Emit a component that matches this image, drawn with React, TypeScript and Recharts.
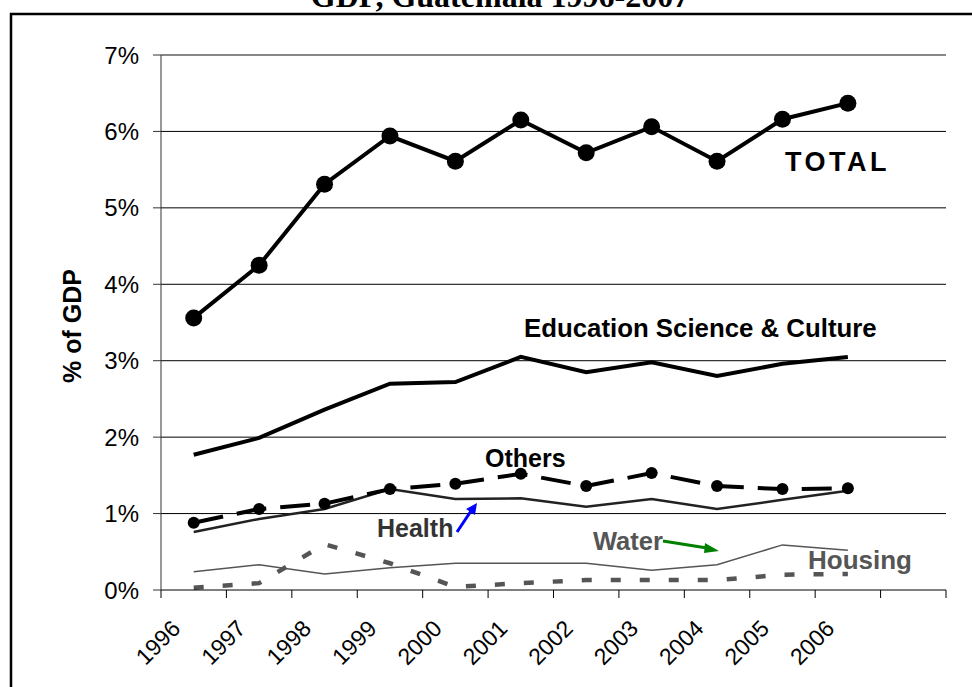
import React from 'react';
import { LineChart, Line, XAxis, YAxis, CartesianGrid, Customized } from 'recharts';

const years = ['1996', '1997', '1998', '1999', '2000', '2001', '2002', '2003', '2004', '2005', '2006', '2007'];
const tickLabels = ['1996', '1997', '1998', '1999', '2000', '2001', '2002', '2003', '2004', '2005', '2006', ''];
const yTicks = [0, 1, 2, 3, 4, 5, 6, 7];
const innerGrid = [1, 2, 3, 4, 5, 6];
const topGrid = [7];

const total = [3.56, 4.25, 5.31, 5.94, 5.61, 6.15, 5.72, 6.06, 5.61, 6.16, 6.37, null];
const education = [1.77, 1.99, 2.36, 2.70, 2.72, 3.05, 2.85, 2.98, 2.80, 2.96, 3.05, null];
const others = [0.88, 1.06, 1.13, 1.32, 1.39, 1.52, 1.36, 1.53, 1.36, 1.32, 1.33, null];
const health = [0.76, 0.93, 1.06, 1.32, 1.19, 1.20, 1.09, 1.19, 1.06, 1.18, 1.30, null];
const water = [0.24, 0.33, 0.21, 0.29, 0.35, 0.35, 0.35, 0.26, 0.33, 0.59, 0.52, null];
const housing = [0.03, 0.09, 0.60, 0.35, 0.04, 0.09, 0.13, 0.13, 0.13, 0.20, 0.21, null];

const data = years.map((y, i) => ({
  year: y,
  total: total[i],
  education: education[i],
  others: others[i],
  health: health[i],
  water: water[i],
  housing: housing[i],
}));

const SANS = '"Liberation Sans", Arial, sans-serif';
const SERIF = '"Liberation Serif", "Times New Roman", serif';

const PLOT_LEFT = 161;
const PLOT_RIGHT = 946;
const BAND = (PLOT_RIGHT - PLOT_LEFT) / years.length;

const XTick = (props: any) => {
  const { x, y, index } = props;
  const label = tickLabels[index] ?? '';
  const tx = x - 12;
  const ty = y + 32;
  return (
    <g>
      <line x1={x - BAND / 2} y1={y - 8} x2={x - BAND / 2} y2={y} stroke="#000" strokeWidth={1} />
      {index === years.length - 1 && (
        <line x1={x + BAND / 2} y1={y - 8} x2={x + BAND / 2} y2={y} stroke="#000" strokeWidth={1} />
      )}
      {label && (
        <text
          x={tx}
          y={ty}
          transform={`rotate(-45, ${tx}, ${ty})`}
          textAnchor="end"
          fontFamily={SANS}
          fontSize={23}
          fill="#000"
        >
          {label}
        </text>
      )}
    </g>
  );
};

const Annotations = () => (
  <g>
    <path d="M 11 1000 L 11 14 L 1000 14" fill="none" stroke="#000" strokeWidth={2.5} />
    <text x={500} y={7} textAnchor="middle" fontFamily={SERIF} fontWeight="bold" fontSize={32} fill="#000">
      GDP, Guatemala 1996-2007
    </text>
    <text
      x={72}
      y={326}
      transform="rotate(-90, 72, 326)"
      textAnchor="middle"
      dominantBaseline="central"
      fontFamily={SANS}
      fontWeight="bold"
      fontSize={25}
      fill="#000"
    >
      % of GDP
    </text>
    <text x={785} y={171} fontFamily={SANS} fontWeight="bold" fontSize={27} letterSpacing={3.5} fill="#000">
      TOTAL
    </text>
    <text x={524} y={337} fontFamily={SANS} fontWeight="bold" fontSize={25.8} fill="#000">
      Education Science &amp; Culture
    </text>
    <text x={485} y={467} fontFamily={SANS} fontWeight="bold" fontSize={25} fill="#000">
      Others
    </text>
    <text x={377} y={537} fontFamily={SANS} fontWeight="bold" fontSize={25} fill="#333">
      Health
    </text>
    <line x1={457} y1={532} x2={471} y2={511} stroke="#0000ff" strokeWidth={3} />
    <polygon points="477,503 466,509 475,515" fill="#0000ff" />
    <text x={593} y={550} fontFamily={SANS} fontWeight="bold" fontSize={25.5} fill="#555">
      Water
    </text>
    <line x1={663} y1={541} x2={707} y2={548} stroke="#008000" strokeWidth={3} />
    <polygon points="719,551 705,543 704,553" fill="#008000" />
    <text x={808} y={569} fontFamily={SANS} fontWeight="bold" fontSize={26} fill="#555">
      Housing
    </text>
  </g>
);

export default function App() {
  return (
    <div style={{ position: 'absolute', left: 0, top: 0, width: 972, height: 687, background: '#fff' }}>
      <LineChart
        width={972}
        height={687}
        data={data}
        margin={{ top: 55, right: 972 - PLOT_RIGHT, bottom: 0, left: 0 }}
      >
        <CartesianGrid yAxisId="left" vertical={false} horizontalValues={innerGrid} stroke="#000" strokeWidth={1} />
        <CartesianGrid yAxisId="left" vertical={false} horizontalValues={topGrid} stroke="#888" strokeWidth={2} />
        <XAxis
          dataKey="year"
          height={97}
          padding={{ left: BAND / 2, right: BAND / 2 }}
          axisLine={{ stroke: '#000', strokeWidth: 1 }}
          tickLine={false}
          tickSize={8}
          tickMargin={0}
          interval={0}
          tick={<XTick />}
        />
        <YAxis
          yAxisId="left"
          width={PLOT_LEFT}
          domain={[0, 7]}
          ticks={yTicks}
          tickFormatter={(v: number) => `${v}%`}
          axisLine={{ stroke: '#333', strokeWidth: 1 }}
          tickLine={{ stroke: '#333' }}
          tickSize={8}
          tickMargin={14}
          tick={{ fontFamily: SANS, fontSize: 24, fill: '#000' }}
        />
        <YAxis
          yAxisId="right"
          orientation="right"
          width={0}
          domain={[0, 7]}
          tick={false}
          tickLine={false}
          axisLine={{ stroke: '#888', strokeWidth: 2 }}
        />
        <Line yAxisId="left" dataKey="housing" stroke="#555" strokeWidth={4.5} strokeDasharray="10 19" dot={false} isAnimationActive={false} />
        <Line yAxisId="left" dataKey="water" stroke="#555" strokeWidth={1.5} dot={false} isAnimationActive={false} />
        <Line yAxisId="left" dataKey="health" stroke="#222" strokeWidth={2.5} dot={false} isAnimationActive={false} />
        <Line
          yAxisId="left"
          dataKey="others"
          stroke="#000"
          strokeWidth={4}
          strokeDasharray="30 14"
          dot={{ r: 6, fill: '#000', stroke: 'none' }}
          isAnimationActive={false}
        />
        <Line yAxisId="left" dataKey="education" stroke="#000" strokeWidth={4} dot={false} isAnimationActive={false} />
        <Line
          yAxisId="left"
          dataKey="total"
          stroke="#000"
          strokeWidth={4}
          dot={{ r: 8.5, fill: '#000', stroke: 'none' }}
          isAnimationActive={false}
        />
        <Customized component={Annotations} />
      </LineChart>
    </div>
  );
}
